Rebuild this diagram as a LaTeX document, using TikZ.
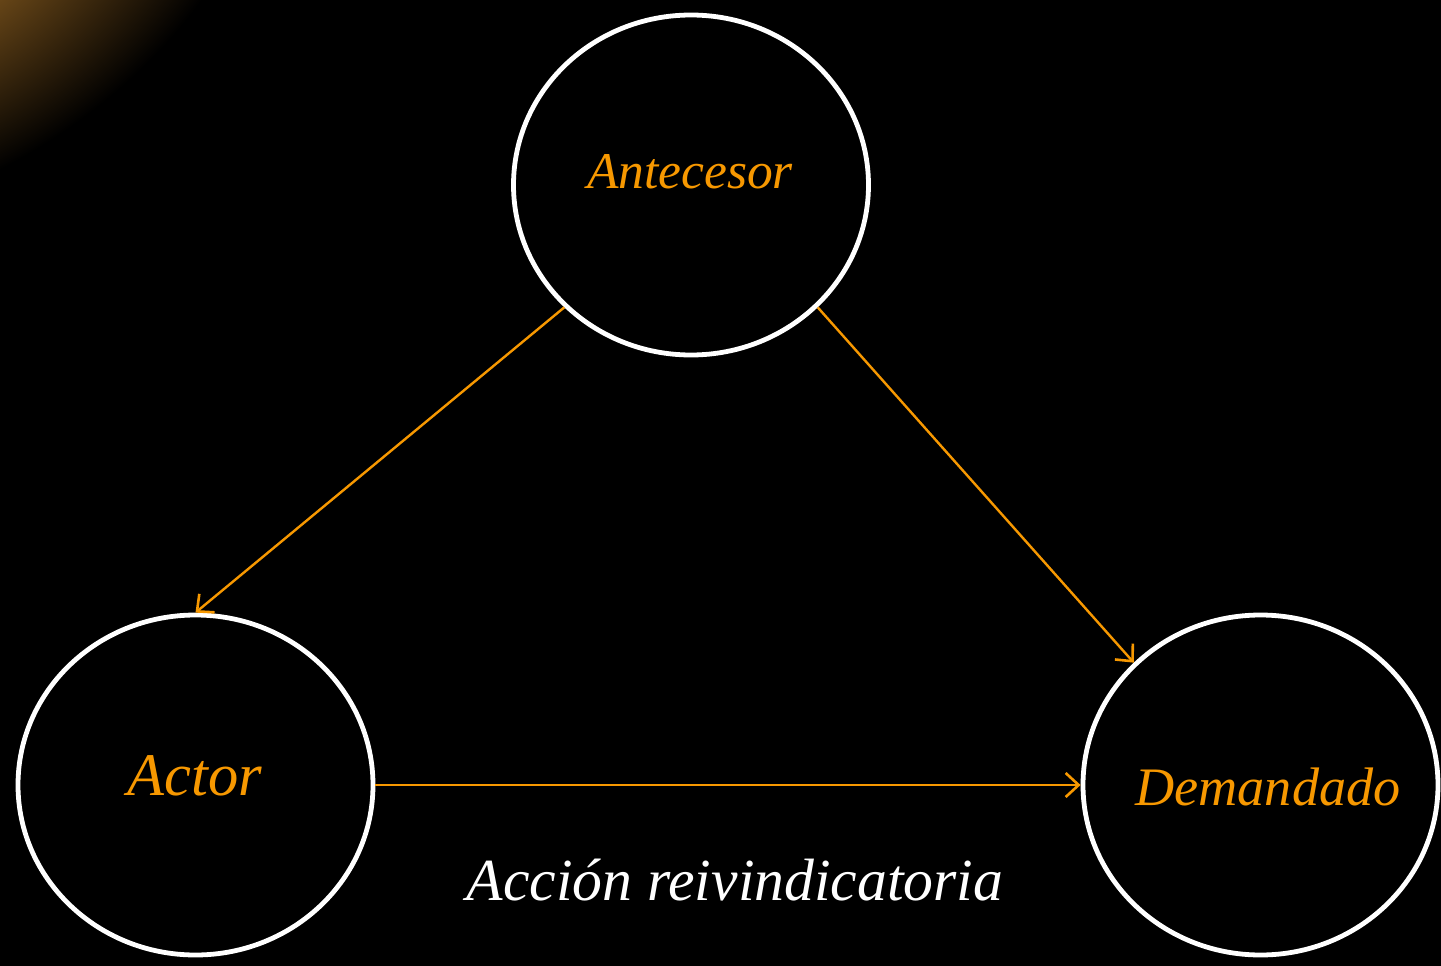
\documentclass[tikz,border=0pt]{standalone}
\usepackage{fontspec}
\setmainfont{Liberation Serif}
\usetikzlibrary{shapes.geometric,arrows.meta}
\definecolor{orng}{RGB}{247,152,0}
\definecolor{glow}{RGB}{160,108,36}
\tikzset{
  person/.style={ellipse, draw=white, line width=4.8pt, inner sep=0pt,
                 minimum width=355pt, minimum height=340pt},
  whotext/.style={text=orng, inner sep=0pt, anchor=base},
  link/.style={draw=orng, line width=2.4pt, -{Straight Barb[length=13pt,width=24pt,line width=2.6pt]}},
}
\begin{document}
\begin{tikzpicture}[x=1pt,y=-1pt]
\useasboundingbox (0,0) rectangle (1441,966);
\fill[black] (0,0) rectangle (1441,966);
\begin{scope}
\clip (0,0) rectangle (1441,966);
\begin{scope}[transform canvas={rotate around={35:(-60,-60)}}]
\shade[inner color=glow, outer color=black] (-60,-60) ellipse (370 and 228);
\end{scope}
\end{scope}
\node[person] (ant) at (691,185) {};
\node[person] (act) at (195.5,785) {};
\node[person] (dem) at (1260.5,785) {};
\node[whotext, font=\itshape\fontsize{51.5}{51.5}\selectfont] (tant) at (690,188) {Antecesor};
\node[whotext, font=\itshape\fontsize{60.5}{60.5}\selectfont] (tact) at (195,795) {Actor};
\node[whotext, font=\itshape\fontsize{54.2}{54.2}\selectfont] (tdem) at (1268,805) {Demandado};
\node[whotext, text=white, font=\itshape\fontsize{59.7}{59.7}\selectfont] (tacc) at (735,900) {Acción reivindicatoria};
\draw[link] (ant.224) -- (act.90);
\draw[link] (ant.316) -- (dem.136);
\draw[link] (act.east) -- (dem.west);
\end{tikzpicture}
\end{document}
